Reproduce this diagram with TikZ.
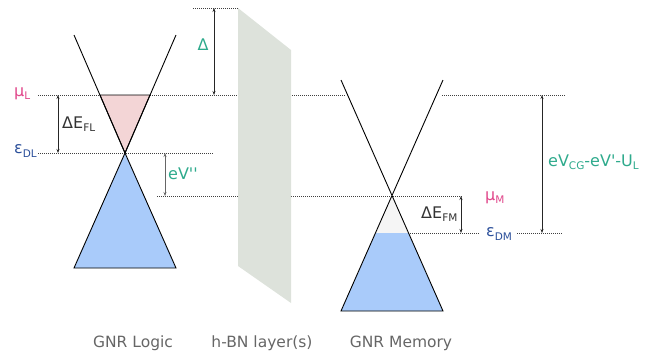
\documentclass[tikz,border=0pt]{standalone}
\usepackage{fontspec}
\setmainfont{DejaVu Sans}[Ligatures=TeXOff]
\usetikzlibrary{arrows.meta}
\definecolor{pinkc}{HTML}{E0468A}
\definecolor{bluec}{HTML}{2B4F9A}
\definecolor{tealc}{HTML}{2EAA8C}
\definecolor{txtc}{HTML}{333333}
\definecolor{grayc}{HTML}{666666}
\definecolor{pinkf}{HTML}{F3D5D6}
\definecolor{bluef}{HTML}{A9CBFA}
\definecolor{hbnf}{HTML}{DDE2DB}
\definecolor{lightf}{HTML}{F5F5F5}
\newcommand{\lsub}[1]{\raisebox{-0.35ex}{\fontsize{10.5}{10.5}\selectfont #1}}
\begin{document}
\begin{tikzpicture}[x=1pt,y=-1pt,
  dotline/.style={black!75, line width=0.6pt, dash pattern=on 1pt off 1pt},
  coneline/.style={black, line width=0.9pt},
  dimarrow/.style={black!85, line width=0.8pt, {Stealth[length=4pt,width=3pt]}-{Stealth[length=4pt,width=3pt]}},
  lab/.style={font=\fontsize{16}{16}\selectfont, inner sep=0pt, anchor=west},
  bottomlab/.style={font=\fontsize{15.5}{15.5}\selectfont, inner sep=0pt, text=grayc}]
\useasboundingbox (0,0) rectangle (656,360);
% coordinates
\coordinate (Ltl) at (74,35);  \coordinate (Ltr) at (176,35);
\coordinate (Lap) at (125,153);
\coordinate (Lpl) at (100,95); \coordinate (Lpr) at (150,95);
\coordinate (Lbl) at (74,268); \coordinate (Lbr) at (176,268);
\coordinate (Mtl) at (341,80); \coordinate (Mtr) at (443,80);
\coordinate (Map) at (392,196);
\coordinate (Mfl) at (375.7,233); \coordinate (Mfr) at (408.3,233);
\coordinate (Mbl) at (341,311); \coordinate (Mbr) at (443,311);
% dotted level lines
\coordinate (d1a) at (38,95);  \coordinate (d1b) at (345,95);
\coordinate (d1c) at (442,95); \coordinate (d1d) at (566,95);
\coordinate (d2a) at (38,153); \coordinate (d2b) at (213,153);
\coordinate (d3a) at (157,196); \coordinate (d3b) at (462,196);
\coordinate (d4a) at (408,233); \coordinate (d4b) at (480,233);
\coordinate (d4c) at (517,233); \coordinate (d4d) at (563,233);
\coordinate (d5a) at (193,8); \coordinate (d5b) at (238,8);
\draw[dotline] (d1a) -- (d1b);
\draw[dotline] (d1c) -- (d1d);
\draw[dotline] (d2a) -- (d2b);
\draw[dotline] (d3a) -- (d3b);
\draw[dotline] (d4a) -- (d4b);
\draw[dotline] (d4c) -- (d4d);
\draw[dotline] (d5a) -- (d5b);
% h-BN layer
\fill[hbnf] (238,8) -- (291,50) -- (291,303) -- (238,266) -- cycle;
% logic cone
\filldraw[fill=pinkf, draw=black, line width=0.9pt] (Lpl) -- (Lpr) -- (Lap) -- cycle;
\filldraw[fill=bluef, draw=black, line width=0.9pt] (Lap) -- (Lbr) -- (Lbl) -- cycle;
\draw[coneline] (Ltl) -- (Lap) -- (Ltr);
% memory cone
\fill[lightf] (Map) -- (Mfr) -- (Mfl) -- cycle;
\fill[bluef] (Mfl) -- (Mfr) -- (Mbr) -- (Mbl) -- cycle;
\draw[coneline] (Mtl) -- (Mbr) -- (Mbl) -- (Mtr);
% dimension arrows
\coordinate (aFL1) at (58,95);  \coordinate (aFL2) at (58,153);
\coordinate (aD1) at (214,8);   \coordinate (aD2) at (214,95);
\coordinate (aV1) at (165,153); \coordinate (aV2) at (165,196);
\coordinate (aFM1) at (461,196); \coordinate (aFM2) at (461,233);
\coordinate (aCG1) at (542,95); \coordinate (aCG2) at (542,233);
\draw[dimarrow] (aFL1) -- (aFL2);
\draw[dimarrow] (aD1) -- (aD2);
\draw[dimarrow, black!60] (aV1) -- (aV2);
\draw[dimarrow] (aFM1) -- (aFM2);
\draw[dimarrow] (aCG1) -- (aCG2);
% labels
\node[lab, text=pinkc] (muL) at (14,94) {μ\lsub{L}};
\node[lab, text=bluec] (epsDL) at (14,151) {ε\lsub{DL}};
\node[lab, text=txtc] (dEFL) at (62,124) {ΔE\lsub{FL}};
\node[lab, text=tealc, anchor=center] (Dlt) at (203,45) {Δ};
\node[lab, text=tealc] (eVpp) at (168,174) {eV''};
\node[lab, text=txtc] (dEFM) at (421,214) {ΔE\lsub{FM}};
\node[lab, text=pinkc] (muM) at (485,198) {μ\lsub{M}};
\node[lab, text=bluec] (epsDM) at (486,234) {ε\lsub{DM}};
\node[lab, text=tealc] (eVCG) at (548,162) {eV\lsub{CG}-eV'-U\lsub{L}};
\node[bottomlab] (gl) at (133,343) {GNR Logic};
\node[bottomlab] (hbn) at (262,343) {h-BN layer(s)};
\node[bottomlab] (gm) at (401,343) {GNR Memory};
\end{tikzpicture}
\end{document}
